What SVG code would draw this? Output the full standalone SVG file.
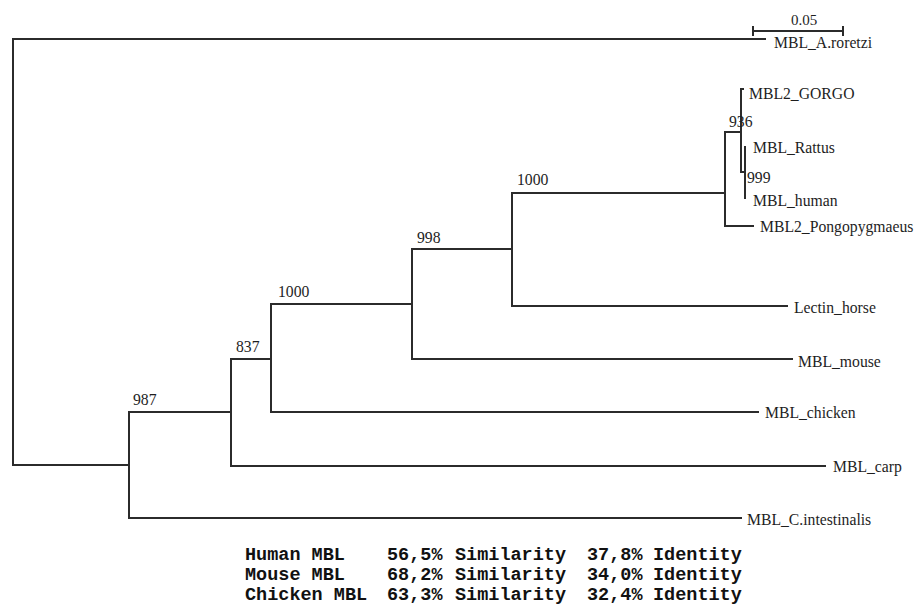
<svg xmlns="http://www.w3.org/2000/svg" width="917" height="608" viewBox="0 0 917 608">
<style>
.br{fill:none;stroke:#2b2b2b;stroke-width:2;stroke-linecap:square}
.lab{font-family:"Liberation Serif","Times New Roman",serif;font-size:15.7px;fill:#1e1e1e}
.bs{font-family:"Liberation Serif","Times New Roman",serif;font-size:15.7px;fill:#1e1e1e}
.tb{font-family:"Liberation Mono","Courier New",monospace;font-size:18.5px;font-weight:bold;fill:#111}
</style>
<rect width="917" height="608" fill="#fff"/>
<g id="scale-bar">
<path class="br" d="M753 31H843M753 27V35M843 27V35"/>
<text class="lab" x="804" y="25" text-anchor="middle" style="font-size:15px">0.05</text>
</g>
<g id="connectors">
<path class="br" d="M13 39V465M13 39H765M13 465H129"/>
<path class="br" d="M129 412V518M129 518H741M129 412H231"/>
<path class="br" d="M231 359V466M231 466H825M231 359H271"/>
<path class="br" d="M271 304V412M271 412H758M271 304H412"/>
<path class="br" d="M412 249V359M412 359H792M412 249H512"/>
<path class="br" d="M512 193V306M512 306H787M512 193H725"/>
<path class="br" d="M725 132V226M725 226H753M725 132H741"/>
<path class="br" d="M741 89V172M741 89H743M741 172H745"/>
<path class="br" d="M745 147V198"/>
</g>
<g id="leaf-roretzi"><text class="lab" x="774" y="48">MBL_A.roretzi</text></g>
<g id="leaf-gorgo"><text class="lab" x="749" y="99">MBL2_GORGO</text></g>
<g id="leaf-rattus"><text class="lab" x="753" y="153">MBL_Rattus</text></g>
<g id="leaf-human"><text class="lab" x="753" y="206">MBL_human</text></g>
<g id="leaf-pongo"><text class="lab" x="760" y="232">MBL2_Pongopygmaeus</text></g>
<g id="leaf-horse"><text class="lab" x="794" y="313">Lectin_horse</text></g>
<g id="leaf-mouse"><text class="lab" x="798" y="367">MBL_mouse</text></g>
<g id="leaf-chicken"><text class="lab" x="765" y="418">MBL_chicken</text></g>
<g id="leaf-carp"><text class="lab" x="833" y="472">MBL_carp</text></g>
<g id="leaf-intestinalis"><text class="lab" x="747" y="525">MBL_C.intestinalis</text></g>
<g id="node-936"><text class="bs" x="729" y="127">936</text></g>
<g id="node-999"><text class="bs" x="747" y="183">999</text></g>
<g id="node-1000a"><text class="bs" x="517" y="185">1000</text></g>
<g id="node-998"><text class="bs" x="417" y="243">998</text></g>
<g id="node-1000b"><text class="bs" x="278" y="297">1000</text></g>
<g id="node-837"><text class="bs" x="236" y="352">837</text></g>
<g id="node-987"><text class="bs" x="133" y="405">987</text></g>
<g id="similarity-table">
<text class="tb" y="560"><tspan x="245">Human MBL</tspan><tspan x="387">56,5%</tspan><tspan x="455">Similarity</tspan><tspan x="587">37,8%</tspan><tspan x="653">Identity</tspan></text>
<text class="tb" y="580"><tspan x="245">Mouse MBL</tspan><tspan x="387">68,2%</tspan><tspan x="455">Similarity</tspan><tspan x="587">34,0%</tspan><tspan x="653">Identity</tspan></text>
<text class="tb" y="600"><tspan x="245">Chicken MBL</tspan><tspan x="387">63,3%</tspan><tspan x="455">Similarity</tspan><tspan x="587">32,4%</tspan><tspan x="653">Identity</tspan></text>
</g>
</svg>
